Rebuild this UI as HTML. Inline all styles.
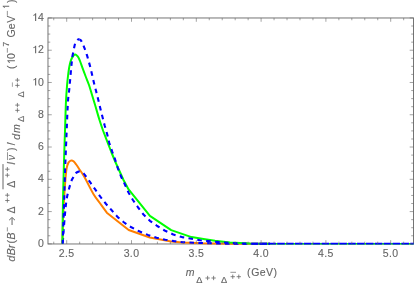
<!DOCTYPE html>
<html><head><meta charset="utf-8"><style>
html,body{margin:0;padding:0;background:#fff;}
svg{display:block;will-change:transform;opacity:0.999;}
text{font-family:"Liberation Sans",sans-serif;fill:#666;stroke:#666;stroke-width:0.12px;}
</style></head><body>
<svg width="415" height="289" viewBox="0 0 415 289">
<rect width="415" height="289" fill="#fff"/>
<rect x="47.98" y="17.98" width="365.52" height="225.99" fill="none" stroke="#666" stroke-width="0.9"/>
<g fill="none" stroke-linejoin="round">
<path d="M62.40,243.75 C62.67,234.17 62.81,224.58 63.20,215.00 C63.51,207.33 64.00,199.66 64.50,192.00 C64.87,186.33 65.28,180.66 65.80,175.00 C66.01,172.66 66.21,170.30 66.70,168.00 C67.08,166.22 67.62,164.45 68.40,162.80 C68.74,162.07 69.33,161.44 70.00,161.00 C70.55,160.64 71.25,160.40 71.90,160.50 C72.62,160.61 73.26,161.10 73.80,161.60 C74.72,162.45 75.46,163.49 76.20,164.50 C77.43,166.19 78.54,167.96 79.70,169.70 C80.87,171.46 82.09,173.20 83.20,175.00 C84.12,176.50 84.96,178.05 85.80,179.60 C88.47,184.55 90.79,189.69 93.70,194.50 C95.87,198.08 98.56,201.31 101.00,204.70 L106.80,212.70 L128.70,230.00 L149.80,237.50 L171.20,241.50 L182.80,242.50 L203.00,243.30 L230.00,243.70 L250.00,243.75 L270.00,243.75" stroke="#ff7f00" stroke-width="2.0"/>
<path d="M62.70,243.75 C63.23,236.50 63.67,229.24 64.30,222.00 C64.94,214.66 65.48,207.30 66.50,200.00 C67.01,196.35 67.95,192.76 68.90,189.20 C69.75,185.99 70.78,182.83 71.90,179.70 C72.12,179.08 72.58,178.57 72.90,178.00 C73.71,176.54 74.18,174.84 75.30,173.60 C76.21,172.59 77.57,172.09 78.80,171.50 C79.26,171.28 79.79,171.14 80.30,171.20 C80.91,171.28 81.49,171.55 82.00,171.90 C82.68,172.37 83.26,172.98 83.80,173.60 C84.46,174.35 85.00,175.20 85.60,176.00 C86.34,177.00 87.07,178.00 87.80,179.00 C88.57,180.06 89.34,181.13 90.10,182.20 C91.81,184.60 93.50,187.00 95.20,189.40 C97.04,192.00 98.80,194.65 100.70,197.20 L106.10,204.00 L111.90,210.50 L117.70,217.10 L123.50,222.00 L128.70,225.80 L138.00,230.80 L147.90,234.90 L156.60,237.80 L165.30,239.70 L174.10,241.10 L182.80,242.20 L200.00,243.00 L225.00,243.60 L240.00,243.75 L251.40,243.75" stroke="#0000ff" stroke-width="2.1" stroke-dasharray="4.6 4.3" stroke-dashoffset="7.71"/>
<path d="M62.40,243.75 C62.60,229.17 62.72,214.58 63.00,200.00 C63.22,188.33 63.56,176.67 63.90,165.00 C64.29,151.67 64.76,138.33 65.20,125.00 C65.46,117.00 65.63,109.00 66.00,101.00 C66.23,95.99 66.60,91.00 67.00,86.00 C67.27,82.66 67.60,79.33 68.00,76.00 C68.34,73.16 68.72,70.32 69.20,67.50 C69.52,65.65 69.89,63.81 70.40,62.00 C70.76,60.73 71.24,59.49 71.80,58.30 C72.21,57.42 72.66,56.54 73.30,55.80 C73.75,55.28 74.32,54.73 75.00,54.60 C75.53,54.50 76.08,54.86 76.50,55.20 C77.21,55.78 77.82,56.51 78.30,57.30 C79.00,58.46 79.50,59.74 80.00,61.00 C80.76,62.91 81.39,64.87 82.10,66.80 C83.23,69.87 84.34,72.94 85.50,76.00 C86.64,79.01 87.95,81.96 89.00,85.00 C90.14,88.29 91.03,91.67 92.05,95.00 C93.07,98.33 94.10,101.66 95.10,105.00 C96.59,109.99 97.95,115.03 99.50,120.00 C100.65,123.69 101.88,127.36 103.20,131.00 L107.40,141.80 L111.30,152.00 L115.40,162.00 L123.50,180.00 L128.60,189.40 L149.90,215.90 L171.20,230.10 L191.50,237.10 L205.00,239.30 L215.00,240.80 L230.00,242.40 L250.00,243.40 L265.00,243.75 L270.00,243.75" stroke="#00ff00" stroke-width="2.0"/>
<path d="M62.70,243.75 C63.13,230.83 63.58,217.92 64.00,205.00 C64.38,193.33 64.68,181.66 65.10,170.00 C65.52,158.33 66.01,146.67 66.50,135.00 C66.98,123.67 67.30,112.32 68.00,101.00 C68.27,96.65 68.98,92.34 69.40,88.00 C69.98,82.00 70.43,76.00 71.00,70.00 C71.43,65.50 71.82,60.99 72.40,56.50 C72.59,55.05 73.02,53.64 73.30,52.20 C73.58,50.77 73.80,49.33 74.10,47.90 C74.37,46.59 74.56,45.26 75.00,44.00 C75.37,42.94 75.83,41.90 76.50,41.00 C77.02,40.30 77.69,39.64 78.50,39.30 C78.86,39.15 79.24,39.56 79.62,39.69" stroke="#0000ff" stroke-width="2.1" stroke-dasharray="4.6 4.34" stroke-dashoffset="0.70"/>
<path d="M79.62,39.69 C79.91,39.79 80.29,39.77 80.50,40.00 C81.18,40.74 81.73,41.61 82.20,42.50 C82.80,43.65 83.22,44.89 83.70,46.10 C84.22,47.39 84.73,48.69 85.20,50.00 C85.73,51.46 86.23,52.92 86.70,54.40 C87.16,55.83 87.60,57.26 88.00,58.70 C88.86,61.79 89.73,64.88 90.50,68.00 C91.73,72.98 92.80,78.01 94.00,83.00 C94.63,85.61 95.34,88.20 96.00,90.80 C96.74,93.70 97.49,96.60 98.20,99.50 C98.92,102.43 99.58,105.37 100.30,108.30 C101.01,111.20 101.77,114.10 102.50,117.00 C103.20,119.77 103.85,122.55 104.60,125.30 L107.20,134.20 L109.30,143.00 L112.10,151.30 L115.00,159.20 L117.80,168.10 L121.00,176.50 L124.80,184.20 L128.50,192.50 L132.90,200.00 L138.10,207.50 L143.50,214.50 L149.90,220.80 L157.20,226.00 L164.60,230.50 L173.30,234.50 L182.10,237.10 L191.50,238.80 L200.20,240.30 L215.00,241.80 L230.00,243.00 L245.00,243.60 L251.40,243.75" stroke="#0000ff" stroke-width="2.1" stroke-dasharray="4.6 4.34" stroke-dashoffset="1.58"/>
<path d="M268,243.65 H413.7" stroke="#00ff00" stroke-width="1.5"/>
<path d="M251.4,243.75 H270" stroke="#0000ff" stroke-width="2.1" stroke-dasharray="7.57 1.3" stroke-dashoffset="0.78"/>
<path d="M251.4,243.65 H413.7" stroke="#0000ff" stroke-width="1.6" stroke-dasharray="7.57 1.3" stroke-dashoffset="0.78"/>
</g>
<path d="M53.74,243.97 v-2.3 M53.74,17.98 v2.3 M66.70,243.97 v-3.8 M66.70,17.98 v3.8 M79.66,243.97 v-2.3 M79.66,17.98 v2.3 M92.62,243.97 v-2.3 M92.62,17.98 v2.3 M105.58,243.97 v-2.3 M105.58,17.98 v2.3 M118.54,243.97 v-2.3 M118.54,17.98 v2.3 M131.50,243.97 v-3.8 M131.50,17.98 v3.8 M144.46,243.97 v-2.3 M144.46,17.98 v2.3 M157.42,243.97 v-2.3 M157.42,17.98 v2.3 M170.38,243.97 v-2.3 M170.38,17.98 v2.3 M183.34,243.97 v-2.3 M183.34,17.98 v2.3 M196.30,243.97 v-3.8 M196.30,17.98 v3.8 M209.26,243.97 v-2.3 M209.26,17.98 v2.3 M222.22,243.97 v-2.3 M222.22,17.98 v2.3 M235.18,243.97 v-2.3 M235.18,17.98 v2.3 M248.14,243.97 v-2.3 M248.14,17.98 v2.3 M261.10,243.97 v-3.8 M261.10,17.98 v3.8 M274.06,243.97 v-2.3 M274.06,17.98 v2.3 M287.02,243.97 v-2.3 M287.02,17.98 v2.3 M299.98,243.97 v-2.3 M299.98,17.98 v2.3 M312.94,243.97 v-2.3 M312.94,17.98 v2.3 M325.90,243.97 v-3.8 M325.90,17.98 v3.8 M338.86,243.97 v-2.3 M338.86,17.98 v2.3 M351.82,243.97 v-2.3 M351.82,17.98 v2.3 M364.78,243.97 v-2.3 M364.78,17.98 v2.3 M377.74,243.97 v-2.3 M377.74,17.98 v2.3 M390.70,243.97 v-3.8 M390.70,17.98 v3.8 M403.66,243.97 v-2.3 M403.66,17.98 v2.3 M47.98,243.85 h3.8 M413.5,243.85 h-3.8 M47.98,235.78 h2.3 M413.5,235.78 h-2.3 M47.98,227.71 h2.3 M413.5,227.71 h-2.3 M47.98,219.65 h2.3 M413.5,219.65 h-2.3 M47.98,211.58 h3.8 M413.5,211.58 h-3.8 M47.98,203.51 h2.3 M413.5,203.51 h-2.3 M47.98,195.44 h2.3 M413.5,195.44 h-2.3 M47.98,187.37 h2.3 M413.5,187.37 h-2.3 M47.98,179.31 h3.8 M413.5,179.31 h-3.8 M47.98,171.24 h2.3 M413.5,171.24 h-2.3 M47.98,163.17 h2.3 M413.5,163.17 h-2.3 M47.98,155.10 h2.3 M413.5,155.10 h-2.3 M47.98,147.03 h3.8 M413.5,147.03 h-3.8 M47.98,138.97 h2.3 M413.5,138.97 h-2.3 M47.98,130.90 h2.3 M413.5,130.90 h-2.3 M47.98,122.83 h2.3 M413.5,122.83 h-2.3 M47.98,114.76 h3.8 M413.5,114.76 h-3.8 M47.98,106.69 h2.3 M413.5,106.69 h-2.3 M47.98,98.63 h2.3 M413.5,98.63 h-2.3 M47.98,90.56 h2.3 M413.5,90.56 h-2.3 M47.98,82.49 h3.8 M413.5,82.49 h-3.8 M47.98,74.42 h2.3 M413.5,74.42 h-2.3 M47.98,66.35 h2.3 M413.5,66.35 h-2.3 M47.98,58.29 h2.3 M413.5,58.29 h-2.3 M47.98,50.22 h3.8 M413.5,50.22 h-3.8 M47.98,42.15 h2.3 M413.5,42.15 h-2.3 M47.98,34.08 h2.3 M413.5,34.08 h-2.3 M47.98,26.01 h2.3 M413.5,26.01 h-2.3 M47.98,17.95 h3.8 M413.5,17.95 h-3.8" stroke="#666" stroke-width="0.6" fill="none"/>
<g font-size="10.5" letter-spacing="0.35">
<text x="66.7" y="256.6" text-anchor="middle">2.5</text>
<text x="131.5" y="256.6" text-anchor="middle">3.0</text>
<text x="196.3" y="256.6" text-anchor="middle">3.5</text>
<text x="261.1" y="256.6" text-anchor="middle">4.0</text>
<text x="325.9" y="256.6" text-anchor="middle">4.5</text>
<text x="390.7" y="256.6" text-anchor="middle">5.0</text>
<text x="44.1" y="246.8" text-anchor="end">0</text>
<text x="44.1" y="214.6" text-anchor="end">2</text>
<text x="44.1" y="182.3" text-anchor="end">4</text>
<text x="44.1" y="150.0" text-anchor="end">6</text>
<text x="44.1" y="117.8" text-anchor="end">8</text>
<text x="44.1" y="85.5" text-anchor="end">0</text>
<path transform="translate(32.4,85.5) scale(1.05)" d="M3.6,0V-7.2H2.85C2.6,-6.55 1.95,-5.95 0.95,-5.6V-4.7C1.72,-4.95 2.25,-5.3 2.55,-5.7V0Z" fill="#666"/>
<text x="44.1" y="53.2" text-anchor="end">2</text>
<path transform="translate(32.4,53.2) scale(1.05)" d="M3.6,0V-7.2H2.85C2.6,-6.55 1.95,-5.95 0.95,-5.6V-4.7C1.72,-4.95 2.25,-5.3 2.55,-5.7V0Z" fill="#666"/>
<text x="44.1" y="20.9" text-anchor="end">4</text>
<path transform="translate(32.4,20.9) scale(1.05)" d="M3.6,0V-7.2H2.85C2.6,-6.55 1.95,-5.95 0.95,-5.6V-4.7C1.72,-4.95 2.25,-5.3 2.55,-5.7V0Z" fill="#666"/>
</g>
<!-- x label -->
<text x="185.73" y="276.40" font-size="10.5" font-style="italic">m</text>
<text x="196.13" y="283.00" font-size="9.2">Δ</text>
<text x="221.03" y="283.00" font-size="9.2">Δ</text>
<text x="246.93" y="276.40" font-size="10.5">(</text>
<text x="251.36" y="276.40" font-size="10.5">G</text>
<text x="259.78" y="276.40" font-size="10.5">e</text>
<text x="266.07" y="276.40" font-size="10.5">V</text>
<text x="273.52" y="276.40" font-size="10.5">)</text>
<path d="M205.45,278.00 H209.75 M207.60,275.85 V280.15" stroke="#666" stroke-width="0.8" fill="none"/>
<path d="M211.45,278.00 H215.75 M213.60,275.85 V280.15" stroke="#666" stroke-width="0.8" fill="none"/>
<path d="M230.60,276.70 H234.90 M232.75,274.55 V278.85" stroke="#666" stroke-width="0.8" fill="none"/>
<path d="M236.65,276.70 H240.95 M238.80,274.55 V278.85" stroke="#666" stroke-width="0.8" fill="none"/>
<path d="M230.4,272.3 H236.0" stroke="#666" stroke-width="0.7" fill="none"/>
<!-- y label -->
<g transform="translate(14.9,261.7) rotate(-90)">
<text x="0.32" y="0.00" font-size="10.5" font-style="italic">d</text>
<text x="6.35" y="0.00" font-size="10.5" font-style="italic">B</text>
<text x="13.55" y="0.00" font-size="10.5" font-style="italic">r</text>
<text x="18.28" y="0.00" font-size="10.5">(</text>
<text x="22.25" y="0.00" font-size="10.5" font-style="italic">B</text>
<text x="48.10" y="0.00" font-size="10.5">Δ</text>
<text x="74.05" y="0.00" font-size="10.5">Δ</text>
<text x="97.21" y="0.00" font-size="10.5" font-style="italic">l</text>
<text x="101.38" y="0.00" font-size="10.5" font-style="italic">ν</text>
<text x="110.67" y="0.00" font-size="10.5">)</text>
<text x="116.47" y="0.00" font-size="10.5">/</text>
<text x="122.07" y="4.60" font-size="10.5" font-style="italic">d</text>
<text x="128.58" y="4.60" font-size="10.5" font-style="italic">m</text>
<text x="139.58" y="9.00" font-size="9.2">Δ</text>
<text x="164.23" y="9.00" font-size="9.2">Δ</text>
<text x="192.68" y="0.00" font-size="10.5">(</text>
<text x="202.60" y="0.00" font-size="10.5">0</text>
<text x="214.87" y="-5.80" font-size="9.0">7</text>
<text x="224.31" y="0.00" font-size="10.5">G</text>
<text x="232.33" y="0.00" font-size="10.5">e</text>
<text x="238.87" y="0.00" font-size="10.5">V</text>
<text x="258.82" y="0.00" font-size="10.5">)</text>
<path d="M30.30,-7.55 H34.40" stroke="#666" stroke-width="0.7" fill="none"/>
<path d="M72.40,-11.90 H97.60" stroke="#666" stroke-width="1.0" fill="none"/>
<path d="M101.60,-7.40 H109.50" stroke="#666" stroke-width="0.7" fill="none"/>
<path d="M174.90,-2.50 H179.30" stroke="#666" stroke-width="0.6" fill="none"/>
<path d="M209.00,-7.55 H213.70" stroke="#666" stroke-width="0.7" fill="none"/>
<path d="M246.10,-7.55 H250.80" stroke="#666" stroke-width="0.7" fill="none"/>
<path d="M59.05,-7.55 H63.35 M61.20,-9.70 V-5.40" stroke="#666" stroke-width="0.8" fill="none"/>
<path d="M64.35,-7.55 H68.65 M66.50,-9.70 V-5.40" stroke="#666" stroke-width="0.8" fill="none"/>
<path d="M84.35,-7.55 H88.65 M86.50,-9.70 V-5.40" stroke="#666" stroke-width="0.8" fill="none"/>
<path d="M90.35,-7.55 H94.65 M92.50,-9.70 V-5.40" stroke="#666" stroke-width="0.8" fill="none"/>
<path d="M149.20,2.50 H153.50 M151.35,0.35 V4.65" stroke="#666" stroke-width="0.8" fill="none"/>
<path d="M154.45,2.50 H158.75 M156.60,0.35 V4.65" stroke="#666" stroke-width="0.8" fill="none"/>
<path d="M174.15,2.50 H178.45 M176.30,0.35 V4.65" stroke="#666" stroke-width="0.8" fill="none"/>
<path d="M179.45,2.50 H183.75 M181.60,0.35 V4.65" stroke="#666" stroke-width="0.8" fill="none"/>
<path transform="translate(197.71,0) scale(1.05)" d="M3.6,0V-7.2H2.85C2.6,-6.55 1.95,-5.95 0.95,-5.6V-4.7C1.72,-4.95 2.25,-5.3 2.55,-5.7V0Z" fill="#666"/>
<path transform="translate(252.73,-5.7) scale(0.9)" d="M3.6,0V-7.2H2.85C2.6,-6.55 1.95,-5.95 0.95,-5.6V-4.7C1.72,-4.95 2.25,-5.3 2.55,-5.7V0Z" fill="#666"/>
<path d="M36.70,-2.85 H44.00" stroke="#666" stroke-width="1.0" fill="none"/>
<path d="M41.60,-5.75 Q43.00,-3.85 44.30,-2.85 Q43.00,-1.85 41.60,0.05" stroke="#666" stroke-width="1.0" fill="none" stroke-linejoin="miter"/>
</g>
</svg>
</body></html>
